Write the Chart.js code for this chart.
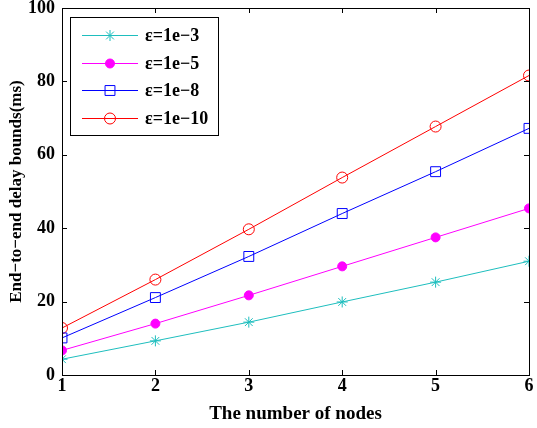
<!DOCTYPE html>
<html>
<head>
<meta charset="utf-8">
<script src="https://cdn.jsdelivr.net/npm/chart.js@4/dist/chart.umd.min.js"></script>
<style>
  html, body { margin: 0; padding: 0; background: #fff; }
  #wrap { width: 537px; height: 428px; }
</style>
</head>
<body>
<div id="wrap"><canvas id="verzoegerungChart"></canvas></div>
<script>
// --- Daten ---
const knoten = [1, 2, 3, 4, 5, 6];
const eps1e3  = [4.3, 9.3, 14.4, 19.9, 25.3, 31.0];
const eps1e5  = [6.7, 14.0, 21.7, 29.6, 37.5, 45.4];
const eps1e8  = [10.1, 21.1, 32.3, 44.0, 55.4, 67.2];
const eps1e10 = [12.8, 26.0, 39.7, 53.8, 67.7, 81.6];
const serienNamen = ['ε=1e−3', 'ε=1e−5', 'ε=1e−8', 'ε=1e−10'];
const yTicks = [0, 20, 40, 60, 80, 100];

const SCHRIFT = "'Liberation Serif', 'Times New Roman', serif";

function punkte(werte) {
  return knoten.map((k, i) => ({ x: k, y: werte[i] }));
}

function serie(name, werte, farbe, stil, radius, gefuellt) {
  return {
    label: name,
    data: punkte(werte),
    borderColor: farbe,
    backgroundColor: farbe,
    borderWidth: 1,
    pointStyle: stil,
    pointRadius: radius,
    pointBorderWidth: 1,
    pointBorderColor: farbe,
    pointBackgroundColor: gefuellt ? farbe : 'rgba(0,0,0,0)',
    tension: 0,
    fill: false,
  };
}

const datasets = [
  serie(serienNamen[0], eps1e3,  '#1ebebe', 'star',   5.5, false),
  serie(serienNamen[1], eps1e5,  '#ff00ff', 'circle', 4.5, true),
  serie(serienNamen[2], eps1e8,  '#0000ff', 'rect',   7,   false),
  serie(serienNamen[3], eps1e10, '#ff0000', 'circle', 5.5, false),
];

// Rahmen rundum + nach innen zeigende Ticks (MATLAB-Stil)
const rahmenPlugin = {
  id: 'rahmen',
  afterDatasetsDraw(chart) {
    const { ctx, chartArea: a, scales } = chart;
    ctx.save();
    ctx.strokeStyle = '#000';
    ctx.lineWidth = 1;
    ctx.strokeRect(Math.round(a.left) + 0.5, Math.round(a.top) + 0.5,
                   Math.round(a.right - a.left), Math.round(a.bottom - a.top));
    const len = 5;
    ctx.beginPath();
    knoten.forEach(k => {
      const x = Math.round(scales.x.getPixelForValue(k)) + 0.5;
      ctx.moveTo(x, a.bottom); ctx.lineTo(x, a.bottom - len);
      ctx.moveTo(x, a.top);    ctx.lineTo(x, a.top + len);
    });
    yTicks.forEach(v => {
      const y = Math.round(scales.y.getPixelForValue(v)) + 0.5;
      ctx.moveTo(a.left, y);  ctx.lineTo(a.left + len, y);
      ctx.moveTo(a.right, y); ctx.lineTo(a.right - len, y);
    });
    ctx.stroke();
    ctx.restore();
  },
};

// Legende mit Linie + Marker in der Mitte, wie im Original
const legendePlugin = {
  id: 'legende',
  afterDraw(chart) {
    const { ctx, chartArea: a } = chart;
    const bx = a.left + 8, by = a.top + 9, bw = 148, bh = 118;
    ctx.save();
    ctx.fillStyle = '#fff';
    ctx.fillRect(bx, by, bw, bh);
    ctx.strokeStyle = '#000';
    ctx.lineWidth = 1;
    ctx.strokeRect(Math.round(bx) + 0.5, Math.round(by) + 0.5, bw, bh);
    chart.data.datasets.forEach((ds, i) => {
      const y = Math.round(by + 18 + i * 27.7) + 0.5;
      ctx.strokeStyle = ds.borderColor;
      ctx.lineWidth = 1;
      ctx.beginPath();
      ctx.moveTo(bx + 12, y);
      ctx.lineTo(bx + 68, y);
      ctx.stroke();
      ctx.fillStyle = ds.pointBackgroundColor;
      ctx.strokeStyle = ds.pointBorderColor;
      Chart.helpers.drawPoint(ctx, {
        pointStyle: ds.pointStyle,
        radius: ds.pointRadius,
        borderWidth: 1,
        rotation: 0,
      }, bx + 40, y);
      ctx.fillStyle = '#000';
      ctx.font = 'bold 18px ' + SCHRIFT;
      ctx.textBaseline = 'middle';
      ctx.textAlign = 'left';
      ctx.fillText(ds.label, bx + 75, y + 1);
    });
    ctx.restore();
  },
};

new Chart(document.getElementById('verzoegerungChart'), {
  type: 'line',
  data: { datasets },
  options: {
    responsive: true,
    maintainAspectRatio: false,
    animation: false,
    devicePixelRatio: 1,
    layout: { padding: { top: 6, right: 6, left: 0, bottom: 0 } },
    plugins: {
      legend: { display: false },
      tooltip: { enabled: false },
    },
    scales: {
      x: {
        type: 'linear',
        min: 1,
        max: 6,
        afterFit: (s) => { s.height = 53; s.paddingLeft = 0; s.paddingRight = 0; },
        grid: { display: false, drawTicks: false },
        border: { display: false },
        ticks: {
          stepSize: 1,
          padding: 1,
          color: '#000',
          font: { family: SCHRIFT, size: 18, weight: 'bold' },
        },
        title: {
          display: true,
          text: 'The number of nodes',
          color: '#000',
          padding: { top: 0, bottom: 3 },
          font: { family: SCHRIFT, size: 19, weight: 'bold' },
        },
      },
      y: {
        min: 0,
        max: 100,
        afterFit: (s) => { s.width = 62; s.paddingTop = 0; s.paddingBottom = 0; },
        grid: { display: false, drawTicks: false },
        border: { display: false },
        ticks: {
          stepSize: 20,
          padding: 7,
          color: '#000',
          font: { family: SCHRIFT, size: 18, weight: 'bold' },
        },
        title: {
          display: true,
          text: 'End−to−end delay bounds(ms)',
          color: '#000',
          padding: { top: 6, bottom: 0 },
          font: { family: SCHRIFT, size: 17, weight: 'bold' },
        },
      },
    },
  },
  plugins: [rahmenPlugin, legendePlugin],
});
</script>
</body>
</html>
